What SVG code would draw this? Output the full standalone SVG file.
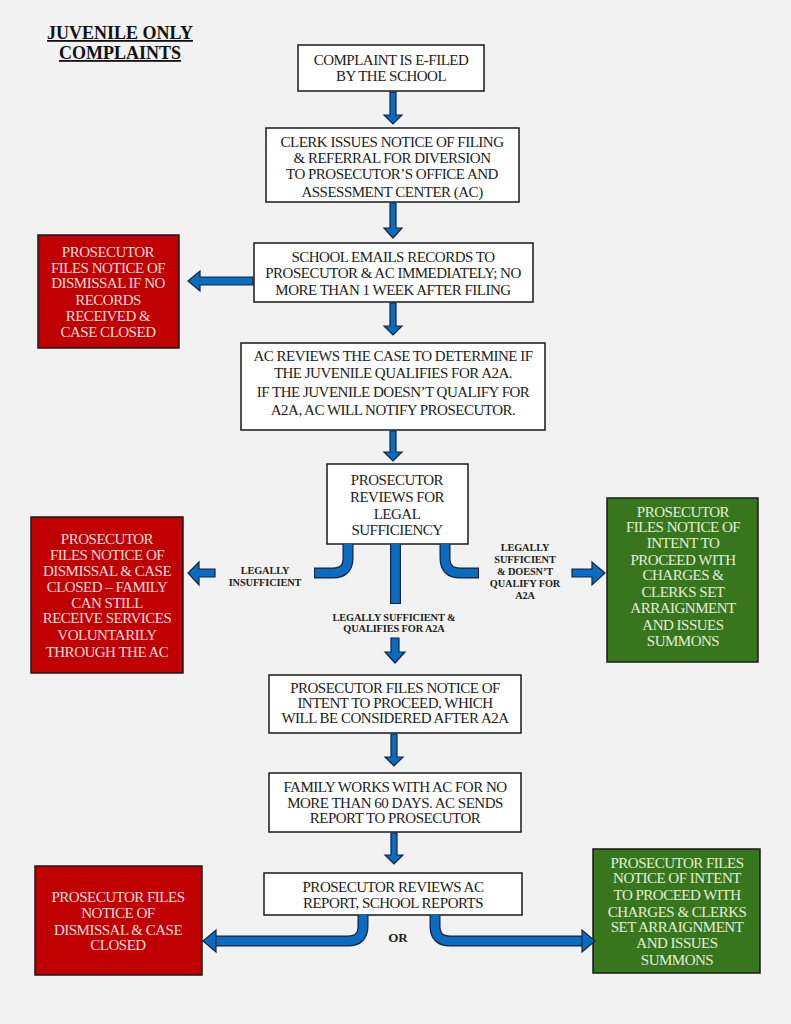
<svg xmlns="http://www.w3.org/2000/svg" width="791" height="1024" viewBox="0 0 791 1024">
<style>
.bg{fill:#f2f2f2}
.box{fill:#ffffff;stroke:#1a1a1a;stroke-width:1.5}
.red{fill:#c00000;stroke:#1a1a1a;stroke-width:1.5}
.grn{fill:#38761d;stroke:#1a1a1a;stroke-width:1.5}
.t,.tr,.tg{font-family:"Liberation Serif","Times New Roman",serif;font-size:15px;letter-spacing:-0.5px;text-anchor:middle}
.t{fill:#222}
.tr{fill:#f6dcdc}
.tg{fill:#e2efd9}
.lb{font-family:"Liberation Serif","Times New Roman",serif;font-size:10.3px;font-weight:bold;letter-spacing:-0.1px;text-anchor:middle;fill:#222}
.title{font-family:"Liberation Serif","Times New Roman",serif;font-size:18px;font-weight:bold;text-anchor:middle;fill:#111;text-decoration:underline}
.arr{fill:#0a6cc0;stroke:#15233f;stroke-width:1.2;stroke-linejoin:miter}
.co{fill:none;stroke:#15233f;stroke-width:11}
.ci{fill:none;stroke:#0a6cc0;stroke-width:8.6}
</style>
<rect class="bg" x="0" y="0" width="791" height="1024"/>
<g id="title">
<text class="title" x="120" y="39">JUVENILE ONLY</text>
<text class="title" x="120" y="59">COMPLAINTS</text>
</g>
<g id="n1">
<rect class="box" x="298" y="45" width="186" height="46"/>
<text class="t" x="391" y="65">COMPLAINT IS E-FILED</text>
<text class="t" x="391" y="81">BY THE SCHOOL</text>
</g>
<g id="n2">
<rect class="box" x="266" y="128" width="253" height="74"/>
<text class="t" x="392" y="147">CLERK ISSUES NOTICE OF FILING</text>
<text class="t" x="392" y="163">&amp; REFERRAL FOR DIVERSION</text>
<text class="t" x="392" y="179">TO PROSECUTOR’S OFFICE AND</text>
<text class="t" x="392" y="197">ASSESSMENT CENTER (AC)</text>
</g>
<g id="n3">
<rect class="box" x="254" y="243" width="279" height="59"/>
<text class="t" x="393" y="262">SCHOOL EMAILS RECORDS TO</text>
<text class="t" x="393" y="278">PROSECUTOR &amp; AC IMMEDIATELY; NO</text>
<text class="t" x="393" y="295">MORE THAN 1 WEEK AFTER FILING</text>
</g>
<g id="r1">
<rect class="red" x="38" y="235" width="141" height="113"/>
<text class="tr" x="108" y="257">PROSECUTOR</text>
<text class="tr" x="108" y="273">FILES NOTICE OF</text>
<text class="tr" x="108" y="288">DISMISSAL IF NO</text>
<text class="tr" x="108" y="305">RECORDS</text>
<text class="tr" x="108" y="321">RECEIVED &amp;</text>
<text class="tr" x="108" y="337">CASE CLOSED</text>
</g>
<g id="n4">
<rect class="box" x="241" y="343" width="304" height="87"/>
<text class="t" x="393" y="361">AC REVIEWS THE CASE TO DETERMINE IF</text>
<text class="t" x="393" y="378">THE JUVENILE QUALIFIES FOR A2A.</text>
<text class="t" x="393" y="397">IF THE JUVENILE DOESN’T QUALIFY FOR</text>
<text class="t" x="393" y="415">A2A, AC WILL NOTIFY PROSECUTOR.</text>
</g>
<g id="n5">
<rect class="box" x="327" y="464" width="141" height="80"/>
<text class="t" x="397" y="485">PROSECUTOR</text>
<text class="t" x="397" y="502">REVIEWS FOR</text>
<text class="t" x="397" y="519">LEGAL</text>
<text class="t" x="397" y="535">SUFFICIENCY</text>
</g>
<g id="r2">
<rect class="red" x="31" y="517" width="152" height="156"/>
<text class="tr" x="107" y="544">PROSECUTOR</text>
<text class="tr" x="107" y="560">FILES NOTICE OF</text>
<text class="tr" x="107" y="576">DISMISSAL &amp; CASE</text>
<text class="tr" x="107" y="592">CLOSED – FAMILY</text>
<text class="tr" x="107" y="608">CAN STILL</text>
<text class="tr" x="107" y="623">RECEIVE SERVICES</text>
<text class="tr" x="107" y="640">VOLUNTARILY</text>
<text class="tr" x="107" y="657">THROUGH THE AC</text>
</g>
<g id="g1">
<rect class="grn" x="607" y="498" width="151" height="164"/>
<text class="tg" x="683" y="517">PROSECUTOR</text>
<text class="tg" x="683" y="532">FILES NOTICE OF</text>
<text class="tg" x="683" y="548">INTENT TO</text>
<text class="tg" x="683" y="565">PROCEED WITH</text>
<text class="tg" x="683" y="580">CHARGES &amp;</text>
<text class="tg" x="683" y="597">CLERKS SET</text>
<text class="tg" x="683" y="613">ARRAIGNMENT</text>
<text class="tg" x="683" y="630">AND ISSUES</text>
<text class="tg" x="683" y="646">SUMMONS</text>
</g>
<g id="n6">
<rect class="box" x="269" y="675" width="252" height="58"/>
<text class="t" x="395" y="693">PROSECUTOR FILES NOTICE OF</text>
<text class="t" x="395" y="708">INTENT TO PROCEED, WHICH</text>
<text class="t" x="395" y="723">WILL BE CONSIDERED AFTER A2A</text>
</g>
<g id="n7">
<rect class="box" x="269" y="773" width="252" height="59"/>
<text class="t" x="395" y="792">FAMILY WORKS WITH AC FOR NO</text>
<text class="t" x="395" y="808">MORE THAN 60 DAYS. AC SENDS</text>
<text class="t" x="395" y="823">REPORT TO PROSECUTOR</text>
</g>
<g id="n8">
<rect class="box" x="264" y="873" width="258" height="42"/>
<text class="t" x="393" y="892">PROSECUTOR REVIEWS AC</text>
<text class="t" x="393" y="908">REPORT, SCHOOL REPORTS</text>
</g>
<g id="r3">
<rect class="red" x="35" y="866" width="167" height="109"/>
<text class="tr" x="118" y="902">PROSECUTOR  FILES</text>
<text class="tr" x="118" y="918">NOTICE OF</text>
<text class="tr" x="118" y="935">DISMISSAL &amp; CASE</text>
<text class="tr" x="118" y="950">CLOSED</text>
</g>
<g id="g2">
<rect class="grn" x="593" y="849" width="167" height="124"/>
<text class="tg" x="677" y="868">PROSECUTOR FILES</text>
<text class="tg" x="677" y="883">NOTICE OF INTENT</text>
<text class="tg" x="677" y="900">TO PROCEED WITH</text>
<text class="tg" x="677" y="917">CHARGES &amp; CLERKS</text>
<text class="tg" x="677" y="932">SET ARRAIGNMENT</text>
<text class="tg" x="677" y="948">AND ISSUES</text>
<text class="tg" x="677" y="965">SUMMONS</text>
</g>
<g id="connectors">
<polygon class="arr" points="390,92 396,92 396,115 402,115 393,124 384,115 390,115"/>
<polygon class="arr" points="390,203 396,203 396,228 402,228 393,238 384,228 390,228"/>
<polygon class="arr" points="390,303 396,303 396,326 402,326 393,335 384,326 390,326"/>
<polygon class="arr" points="390,431 396,431 396,452 402,452 393,461 384,452 390,452"/>
<polygon class="arr" points="253,277 200,277 200,271 188,281 200,291 200,285 253,285"/>
<path class="co" d="M348,544 V558 Q348,573 333,573 H314"/>
<path class="ci" d="M348,544 V558 Q348,573 333,573 H315"/>
<path class="co" d="M445,544 V558 Q445,573 460,573 H479"/>
<path class="ci" d="M445,544 V558 Q445,573 460,573 H478"/>
<path class="co" d="M395.5,544 V604"/>
<path class="ci" d="M395.5,544 V603"/>
<polygon class="arr" points="215,569 199,569 199,562 188,573 199,585 199,577 215,577"/>
<polygon class="arr" points="572,569 592,569 592,562 605,573 592,585 592,577 572,577"/>
<polygon class="arr" points="391,638 399,638 399,652 405,652 395,663 385,652 391,652"/>
<text class="lb" x="265" y="574">LEGALLY</text>
<text class="lb" x="265" y="586">INSUFFICIENT</text>
<text class="lb" x="525" y="551">LEGALLY</text>
<text class="lb" x="525" y="563">SUFFICIENT</text>
<text class="lb" x="525" y="575">&amp; DOESN’T</text>
<text class="lb" x="525" y="587">QUALIFY FOR</text>
<text class="lb" x="525" y="599">A2A</text>
<text class="lb" x="394" y="621">LEGALLY SUFFICIENT &amp;</text>
<text class="lb" x="394" y="632">QUALIFIES FOR A2A</text>
<polygon class="arr" points="391,734 397,734 397,757 403,757 394,766 385,757 391,757"/>
<polygon class="arr" points="391,833 397,833 397,855 403,855 394,864 385,855 391,855"/>
<path class="co" d="M363,915 V926 Q363,941 348,941 H214"/>
<path class="ci" d="M363,915 V926 Q363,941 348,941 H214"/>
<polygon class="arr" points="216,934 216,930 203,941 216,952 216,948"/>
<path class="co" d="M435,915 V926 Q435,941 450,941 H584"/>
<path class="ci" d="M435,915 V926 Q435,941 450,941 H584"/>
<polygon class="arr" points="582,934 582,930 595,941 582,952 582,948"/>
<text class="lb" x="398" y="942" style="font-size:13px">OR</text>
</g>
</svg>
